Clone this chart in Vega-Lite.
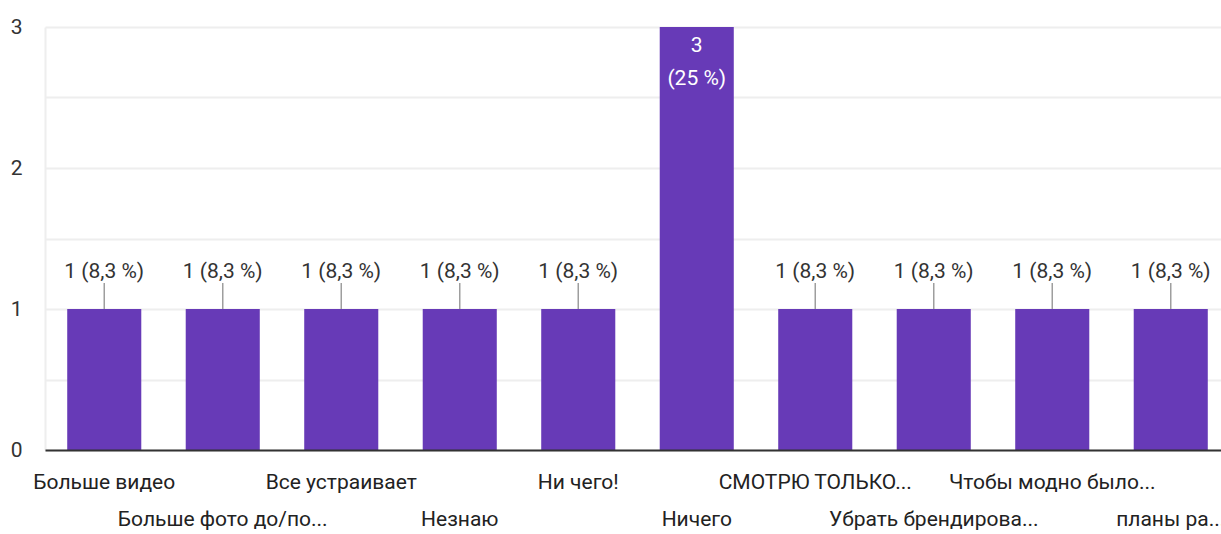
{
  "$schema": "https://vega.github.io/schema/vega-lite/v6.json",
  "autosize": {"type": "none"},
  "padding": {"left": 45, "top": 27, "right": 0, "bottom": 84},
  "width": 1176,
  "height": 423,
  "background": "white",
  "config": {"view": {"stroke": null}, "font": "Roboto"},
  "data": {
    "values": [
      {"cat": "Больше видео", "value": 1, "label": "1 (8,3 %)"},
      {"cat": "Больше фото до/по...", "value": 1, "label": "1 (8,3 %)"},
      {"cat": "Все устраивает", "value": 1, "label": "1 (8,3 %)"},
      {"cat": "Незнаю", "value": 1, "label": "1 (8,3 %)"},
      {"cat": "Ни чего!", "value": 1, "label": "1 (8,3 %)"},
      {"cat": "Ничего", "value": 3, "label": "3\n(25 %)"},
      {"cat": "СМОТРЮ ТОЛЬКО...", "value": 1, "label": "1 (8,3 %)"},
      {"cat": "Убрать брендирова...", "value": 1, "label": "1 (8,3 %)"},
      {"cat": "Чтобы модно было...", "value": 1, "label": "1 (8,3 %)"},
      {"cat": "планы ра...", "value": 1, "label": "1 (8,3 %)"}
    ]
  },
  "encoding": {
    "x": {
      "field": "cat",
      "type": "nominal",
      "sort": null,
      "title": null,
      "scale": {"range": [0, 1185], "paddingInner": 0.375, "paddingOuter": 0.1875},
      "axis": {
        "labelAngle": 0,
        "ticks": false,
        "domainColor": "#333333",
        "domainWidth": 2,
        "zindex": 2,
        "labelFont": "Roboto",
        "labelFontSize": 21,
        "labelColor": "#222222",
        "labelBaseline": "top",
        "labelLimit": 400,
        "labelPadding": {
          "condition": {
            "test": "indexof(['Больше фото до/по...', 'Незнаю', 'Ничего', 'Убрать брендирова...', 'планы ра...'], datum.value) >= 0",
            "value": 58
          },
          "value": 21
        }
      }
    },
    "y": {
      "field": "value",
      "type": "quantitative",
      "title": null,
      "scale": {"domain": [0, 3], "nice": false},
      "axis": {
        "values": [0, 0.5, 1, 1.5, 2, 2.5, 3],
        "labelExpr": "datum.value % 1 ? '' : format(datum.value, 'd')",
        "ticks": false,
        "domainColor": "#eeeeee",
        "domainWidth": 2,
        "gridColor": "#eeeeee",
        "gridWidth": 2,
        "labelFont": "Roboto",
        "labelFontSize": 21,
        "labelColor": "#333333",
        "labelPadding": 23
      }
    }
  },
  "layer": [
    {
      "mark": {"type": "bar", "color": "#673ab7"}
    },
    {
      "transform": [{"filter": "datum.value < 2"}],
      "mark": {"type": "rule", "color": "#9e9e9e", "strokeWidth": 1.5, "y2Offset": -26},
      "encoding": {"y2": {"field": "value"}}
    },
    {
      "transform": [{"filter": "datum.value < 2"}],
      "mark": {"type": "text", "baseline": "alphabetic", "dy": -31, "fontSize": 21, "font": "Roboto", "color": "#333333"},
      "encoding": {"text": {"field": "label"}}
    },
    {
      "transform": [{"filter": "datum.value >= 2"}],
      "mark": {"type": "text", "baseline": "top", "dy": 8, "fontSize": 21, "font": "Roboto", "color": "white", "lineBreak": "\n", "lineHeight": 33},
      "encoding": {"text": {"field": "label"}}
    }
  ]
}
